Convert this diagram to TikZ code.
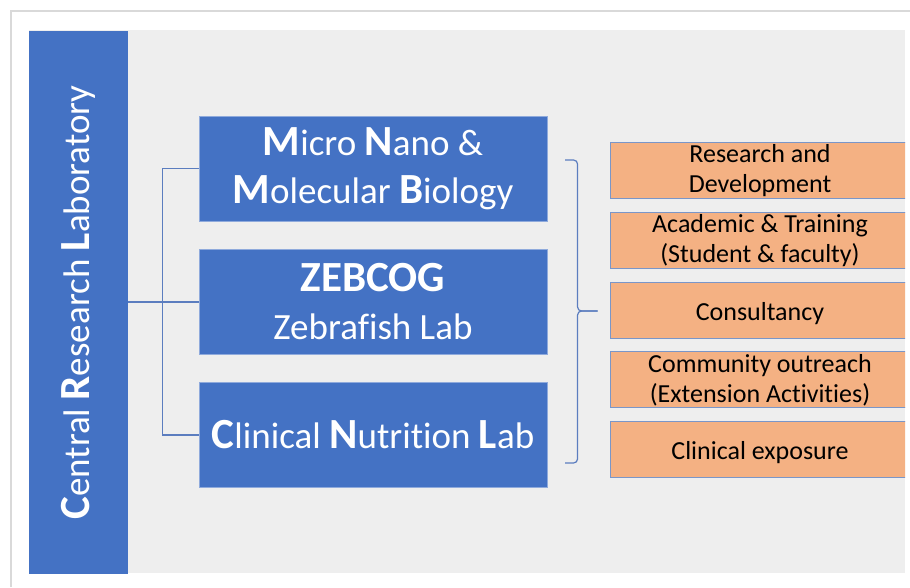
\documentclass[tikz,border=0pt]{standalone}
\usepackage{fontspec}
\setmainfont{Carlito}[RawFeature={-liga}]
\usepackage{graphicx}
\usetikzlibrary{calc}
\definecolor{bblue}{HTML}{4472C4}
\definecolor{orng}{HTML}{F4B183}
\definecolor{panel}{HTML}{EEEEEE}
\definecolor{lnc}{HTML}{5B7DBF}
\definecolor{obord}{HTML}{7A96C8}
\newcommand\BL[1]{{\fontsize{43}{43}\selectfont\bfseries #1}}
\newcommand\ta{\rule[-6pt]{0pt}{32pt}}
\newcommand\tb{\rule[-5.5pt]{0pt}{26pt}}
\newcommand\tz{\rule[-5.5pt]{0pt}{5.5pt}}
\begin{document}
\begin{tikzpicture}[x=1pt,y=-1pt,
  lab/.style={draw=bblue!60!white, line width=0.8pt, fill=bblue, text=white, minimum width=348pt, minimum height=105pt, inner sep=0pt, align=center, font=\fontsize{37}{48}\selectfont},
  act/.style={draw=obord, line width=0.9pt, fill=orng, text=black, minimum width=300pt, minimum height=56pt, inner sep=0pt, align=center, font=\fontsize{26}{30}\selectfont},
  conn/.style={draw=lnc, line width=1.2pt}]
\useasboundingbox (0,0) rectangle (910,587);
\fill[white] (0,0) rectangle (910,587);
\draw[black!15, line width=1.5pt] (11,587) -- (11,11) -- (910,11);
\fill[panel] (29,30) rectangle (905,573);
\node[fill=bblue, minimum width=99pt, minimum height=543pt, inner sep=0pt, text=white, font=\fontsize{37}{40}\selectfont] (crl) at (78.5,302.5) {\rotatebox{90}{\BL{C}entral \BL{R}esearch \BL{L}aboratory}};
\node[lab] (mnm) at (373,168.5) {\BL{M}icro \BL{N}ano \&\\\BL{M}olecular \BL{B}iology};
\node[lab] (zeb) at (373,302) {{\fontsize{43}{49}\selectfont\bfseries ZEBCOG}\\Zebrafish Lab};
\node[lab] (cnl) at (373,435) {\BL{C}linical \BL{N}utrition \BL{L}ab};
\draw[conn] (crl.east |- zeb.west) -- (zeb.west);
\draw[conn] (mnm.west) -- ++(-36,0) |- (cnl.west);
\begin{scope}
\clip (29,30) rectangle (905,573);
\node[act] (rd) at (760,170) {\tb Research and\\Development\tz};
\node[act] (at) at (760,240) {\tb Academic \& Training\\(Student \& faculty)\tz};
\node[act] (cons) at (760,310) {\ta Consultancy};
\node[act] (co) at (760,379.5) {\tb Community outreach\\(Extension Activities)\tz};
\node[act] (ce) at (760,449) {\ta Clinical exposure};
\end{scope}
\coordinate (tip) at ($(cons.west)+(-12,1)$);
\coordinate (top) at (565,160);
\coordinate (bot) at (565,463);
\draw[conn, rounded corners=4] (top) -| ($(tip)+(-20,0)$) -- (tip);
\draw[conn, rounded corners=4] (tip) -- ($(tip)+(-20,0)$) |- (bot);
\end{tikzpicture}
\end{document}
